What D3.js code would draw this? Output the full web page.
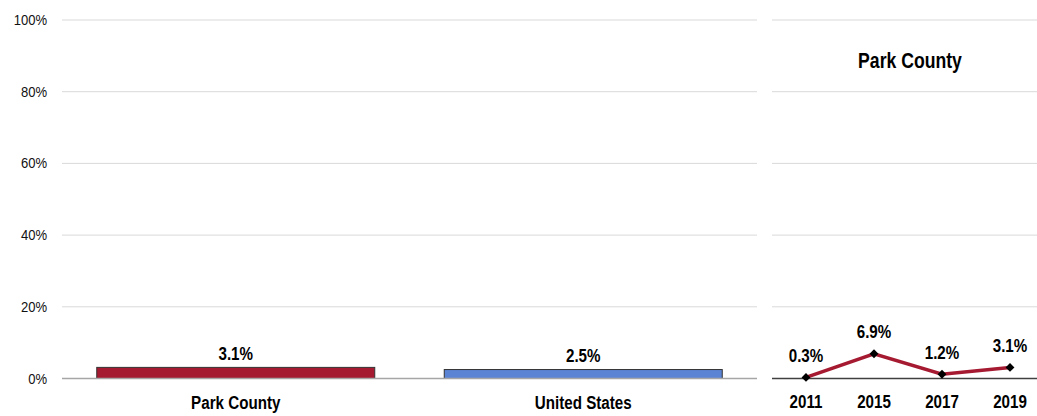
<!DOCTYPE html>
<html><head><meta charset="utf-8">
<script src="https://cdn.jsdelivr.net/npm/d3@7"></script>
<style>
body{margin:0;background:#fff;}
text{font-family:"Liberation Sans",Arial,sans-serif;}
</style></head><body>
<svg id="c" width="1037" height="416"></svg>
<script>
const categories = ["Park County", "United States"];
const barValues = [3.1, 2.5];
const barColors = ["#A51A30", "#5B84D4"];
const years = ["2011", "2015", "2017", "2019"];
const trendValues = [0.3, 6.9, 1.2, 3.1];
const yTicks = [0, 20, 40, 60, 80, 100];
const trendTitle = "Park County";

const svg = d3.select("#c");
const y = d3.scaleLinear().domain([0, 100]).range([378.5, 20]);
const SX = 0.82;

function narrow(sel, data, xf, yf, size, tf) {
  const g = sel.append("g").selectAll("g").data(data).join("g")
    .attr("transform", (d, i) => `translate(${xf(d, i)},${yf(d, i)}) scale(${SX},1)`);
  g.append("text").attr("dy", "0.35em").attr("text-anchor", "middle")
    .style("font-size", size + "px").style("font-weight", "bold").attr("fill", "#000")
    .text(tf);
}

// left panel
const xL = d3.scaleBand().domain(categories).range([62, 757]).paddingInner(0.2).paddingOuter(0.1);
svg.append("g").selectAll("line").data(yTicks.filter(d => d > 0)).join("line")
  .attr("x1", 62).attr("x2", 757).attr("y1", d => y(d)).attr("y2", d => y(d))
  .attr("stroke", "#d9d9d9").attr("stroke-width", 1);
svg.append("g").selectAll("g").data(yTicks).join("g")
  .attr("transform", d => `translate(47,${y(d)}) scale(0.9,1)`)
  .append("text").attr("dy", "0.35em").attr("text-anchor", "end")
  .style("font-size", "14.5px").attr("fill", "#111")
  .text(d => d + "%");

svg.append("g").selectAll("rect").data(barValues).join("rect")
  .attr("x", (d, i) => xL(categories[i])).attr("width", xL.bandwidth())
  .attr("y", d => y(d)).attr("height", d => y(0) - y(d))
  .attr("fill", (d, i) => barColors[i]).attr("stroke", "#333").attr("stroke-width", 1);
svg.append("line").attr("x1", 62).attr("x2", 757).attr("y1", y(0)).attr("y2", y(0))
  .attr("stroke", "#a6a6a6").attr("stroke-width", 1.5);
narrow(svg, barValues, (d, i) => xL(categories[i]) + xL.bandwidth() / 2, d => y(d) - 14, 18.5, d => d.toFixed(1) + "%");
narrow(svg, categories, d => xL(d) + xL.bandwidth() / 2, () => 403, 18.5, d => d);

// right panel
const xR = d3.scaleBand().domain(years).range([772, 1044]);
svg.append("g").selectAll("line").data(yTicks.filter(d => d > 0)).join("line")
  .attr("x1", 772).attr("x2", 1037).attr("y1", d => y(d)).attr("y2", d => y(d))
  .attr("stroke", "#d9d9d9").attr("stroke-width", 1);
svg.append("line").attr("x1", 772).attr("x2", 1037).attr("y1", y(0)).attr("y2", y(0))
  .attr("stroke", "#404040").attr("stroke-width", 1.5);
const pts = trendValues.map((v, i) => [xR(years[i]) + xR.bandwidth() / 2, y(v)]);
svg.append("path").attr("d", d3.line()(pts)).attr("fill", "none")
  .attr("stroke", "#A51A30").attr("stroke-width", 3.5);
svg.append("g").selectAll("path").data(pts).join("path")
  .attr("d", d3.symbol(d3.symbolDiamond2, 50)())
  .attr("transform", d => `translate(${d[0]},${d[1]})`).attr("fill", "#000");
narrow(svg, trendValues, (d, i) => pts[i][0], (d, i) => pts[i][1] - 22, 18.5, d => d.toFixed(1) + "%");
narrow(svg, years, d => xR(d) + xR.bandwidth() / 2, () => 402, 18.5, d => d);
narrow(svg, [trendTitle], () => 910, () => 60, 21.5, d => d);
</script></body></html>
